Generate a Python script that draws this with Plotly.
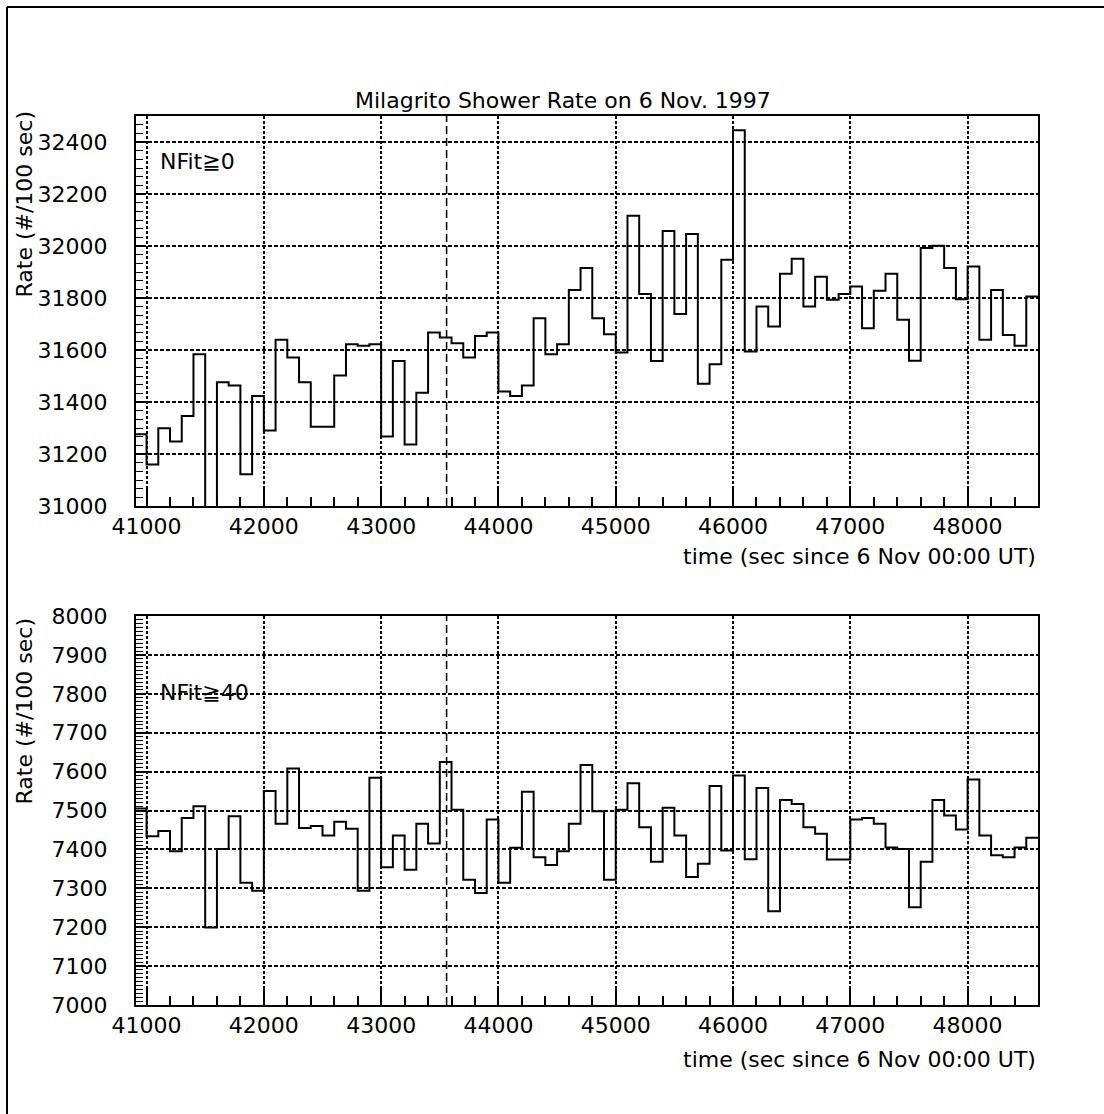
import numpy as np
import plotly.graph_objects as go

# ---------------- data ----------------
bin_first = 40900          # start of first 100-s bin
bin_width = 100
burst_time = 43558         # dashed marker

rate_nfit0 = [
    31276, 31160, 31299, 31248, 31346, 31584, 30900, 31476, 31463, 31122,
    31423, 31290, 31639, 31571, 31476, 31305, 31305, 31502, 31622, 31616,
    31622, 31267, 31558, 31237, 31436, 31667, 31648, 31626, 31571, 31654,
    31667, 31440, 31423, 31463, 31722, 31584, 31622, 31831, 31915, 31722,
    31661, 31590, 32116, 31815, 31558, 32058, 31738, 32046, 31470, 31545,
    31947, 32445, 31594, 31767, 31690, 31893, 31951, 31767, 31882, 31793,
    31815, 31844, 31684, 31828, 31893, 31716, 31559, 31992, 32001, 31915,
    31795, 31921, 31639, 31831, 31658, 31616, 31806,
]

rate_nfit40 = [
    7505, 7434, 7447, 7395, 7481, 7511, 7199, 7401, 7485, 7314,
    7294, 7550, 7466, 7608, 7455, 7460, 7436, 7471, 7453, 7294,
    7584, 7354, 7436, 7348, 7466, 7415, 7625, 7502, 7322, 7288,
    7477, 7314, 7404, 7548, 7380, 7360, 7395, 7466, 7617, 7498,
    7322, 7502, 7570, 7457, 7368, 7507, 7436, 7329, 7363, 7563,
    7397, 7590, 7375, 7558, 7241, 7527, 7517, 7457, 7440, 7374,
    7374, 7477, 7481, 7466, 7405, 7401, 7251, 7368, 7527, 7487,
    7451, 7580, 7436, 7385, 7380, 7405, 7430,
]

title_text = "Milagrito Shower Rate on 6 Nov. 1997"
xlabel = "time (sec since 6 Nov 00:00 UT)"
ylabel = "Rate (#/100 sec)"
label_top = "NFit≧0"
label_bot = "NFit≧40"

x_range = [40910, 48600]
y_range_top = [31000, 32500]
y_range_bot = [7000, 8000]

# ---------------- layout geometry (pixels) ----------------
W, H = 1104, 1114
L, R = 136, 1038
T_top, B_top = 116, 506
T_bot, B_bot = 616, 1005
PH = B_bot - T_top


def px(xp):
    return (xp - L) / (R - L)


def py(yp):
    return (B_bot - yp) / PH


FONT = "DejaVu Sans"
FS = 22

edges = bin_first + bin_width * np.arange(len(rate_nfit0) + 1)

fig = go.Figure()
fig.add_trace(go.Scatter(x=edges, y=list(rate_nfit0) + [rate_nfit0[-1]],
                         mode="lines", line=dict(shape="hv", color="black", width=2),
                         xaxis="x", yaxis="y", showlegend=False))
fig.add_trace(go.Scatter(x=edges, y=list(rate_nfit40) + [rate_nfit40[-1]],
                         mode="lines", line=dict(shape="hv", color="black", width=2),
                         xaxis="x2", yaxis="y2", showlegend=False))

grid_dash = "4px,2px"


def xaxis_cfg(anchor):
    return dict(range=x_range, anchor=anchor, dtick=1000, tick0=41000,
                tickformat="d", showgrid=True, gridcolor="black", gridwidth=1.5,
                griddash="3px,2px", zeroline=False, showline=True, linecolor="black",
                linewidth=2, mirror=True, ticks="inside", ticklen=18, tickwidth=1.5,
                tickcolor="black", tickfont=dict(family=FONT, size=FS, color="black"),
                minor=dict(dtick=200, tick0=41000, ticks="inside", ticklen=9,
                           tickwidth=1.5, tickcolor="black", showgrid=False))


def yaxis_cfg(anchor, rng, dtick, mdtick, domain):
    return dict(range=rng, anchor=anchor, domain=domain, dtick=dtick, tick0=rng[0],
                tickformat="d", showgrid=True, gridcolor="black", gridwidth=1.5,
                griddash=grid_dash, zeroline=False, showline=True, linecolor="black",
                linewidth=2, mirror=True, ticks="inside", ticklen=10, tickwidth=1.5,
                tickcolor="black", ticklabelstandoff=22,
                tickfont=dict(family=FONT, size=FS, color="black"),
                minor=dict(dtick=mdtick, tick0=rng[0], ticks="inside", ticklen=7,
                           tickwidth=1.2, tickcolor="black", showgrid=False))


fig.update_layout(
    width=W, height=H, margin=dict(l=L, r=W - R, t=T_top, b=H - B_bot),
    paper_bgcolor="white", plot_bgcolor="white",
    xaxis=dict(domain=[0, 1], **xaxis_cfg("y")),
    xaxis2=dict(domain=[0, 1], **xaxis_cfg("y2")),
    yaxis=yaxis_cfg("x", y_range_top, 200, 200 / 6, [py(B_top), 1]),
    yaxis2=yaxis_cfg("x2", y_range_bot, 100, 10, [0, py(T_bot)]),
    showlegend=False,
)

ann_font = dict(family=FONT, size=FS, color="black")
annotations = [
    dict(text=title_text, x=px(563), y=py(100), xanchor="center", yanchor="middle"),
    dict(text=label_top, x=px(158), y=py(161), xanchor="left", yanchor="middle"),
    dict(text=label_bot, x=px(158), y=py(692), xanchor="left", yanchor="middle"),
    dict(text=xlabel, x=px(R), y=py(556), xanchor="right", yanchor="middle"),
    dict(text=xlabel, x=px(R), y=py(1059), xanchor="right", yanchor="middle"),
    dict(text=ylabel, x=px(24), y=py(T_top - 7), xanchor="center", yanchor="top",
         textangle=-90),
    dict(text=ylabel, x=px(24), y=py(T_bot), xanchor="center", yanchor="top",
         textangle=-90),
]
for a in annotations:
    a.update(xref="paper", yref="paper", showarrow=False, font=ann_font)
fig.update_layout(annotations=annotations)

shapes = [
    dict(type="line", xref="x", yref="y domain", x0=burst_time, x1=burst_time, y0=0, y1=1,
         line=dict(color="black", width=1.5, dash="8px,4px")),
    dict(type="line", xref="x2", yref="y2 domain", x0=burst_time, x1=burst_time, y0=0, y1=1,
         line=dict(color="black", width=1.5, dash="8px,4px")),
    # outer border (left and top edges of the page)
    dict(type="line", xref="paper", yref="paper", x0=px(7), x1=px(7), y0=py(7), y1=py(H),
         line=dict(color="black", width=2)),
    dict(type="line", xref="paper", yref="paper", x0=px(7), x1=px(W), y0=py(7), y1=py(7),
         line=dict(color="black", width=2)),
]
fig.update_layout(shapes=shapes)

fig.write_html("out.html")
